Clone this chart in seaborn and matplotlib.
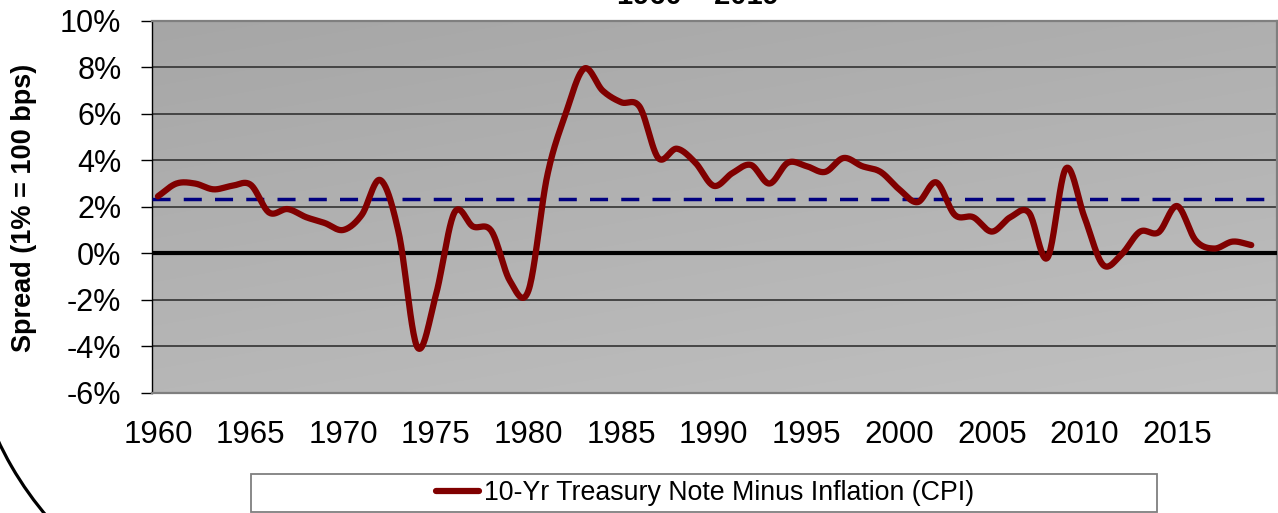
import numpy as np
import matplotlib
matplotlib.use("Agg")
import matplotlib.pyplot as plt
import seaborn as sns
from matplotlib.patches import Rectangle, Arc
from matplotlib.transforms import IdentityTransform

# ---------------- data ----------------
years = list(range(1960, 2020))
spread = [2.45, 3.0, 3.0, 2.75, 2.9, 2.95, 1.75, 1.9, 1.55, 1.3,
          1.0, 1.65, 3.15, 0.85, -4.05, -1.8, 1.75, 1.15, 0.95, -1.2,
          -1.6, 3.3, 6.0, 7.95, 7.0, 6.5, 6.3, 4.1, 4.5, 3.9,
          2.9, 3.45, 3.8, 3.0, 3.9, 3.75, 3.5, 4.1, 3.75, 3.5,
          2.75, 2.2, 3.05, 1.65, 1.55, 0.93, 1.55, 1.75, -0.2, 3.65,
          1.55, -0.5, -0.05, 0.93, 0.9, 2.03, 0.55, 0.2, 0.5, 0.35]
average_spread = 2.35
tick_years = [1960, 1965, 1970, 1975, 1980, 1985, 1990, 1995, 2000, 2005, 2010, 2015]
y_ticks = [-6, -4, -2, 0, 2, 4, 6, 8, 10]
y_tick_labels = ["-6%", "-4%", "-2%", "0%", "2%", "4%", "6%", "8%", "10%"]
series_label = "10-Yr Treasury Note Minus Inflation (CPI)"
y_label = "Spread (1% = 100 bps)"
title_text = "1960 \u2013 2019"


def smooth_curve(x, y, n=24):
    """Catmull-Rom smoothing (like a spreadsheet 'smoothed line')."""
    x = np.asarray(x, float)
    y = np.asarray(y, float)
    px = np.concatenate([[2 * x[0] - x[1]], x, [2 * x[-1] - x[-2]]])
    py = np.concatenate([[2 * y[0] - y[1]], y, [2 * y[-1] - y[-2]]])
    t = np.linspace(0, 1, n, endpoint=False)
    xs, ys = [], []
    for i in range(1, len(px) - 2):
        for arr, out in ((px, xs), (py, ys)):
            p0, p1, p2, p3 = arr[i - 1:i + 3]
            out.extend(0.5 * (2 * p1 + (-p0 + p2) * t
                              + (2 * p0 - 5 * p1 + 4 * p2 - p3) * t ** 2
                              + (-p0 + 3 * p1 - 3 * p2 + p3) * t ** 3))
    xs.append(x[-1])
    ys.append(y[-1])
    return np.array(xs), np.array(ys)


sns.set_theme(style="white")
plt.rcParams["font.family"] = ["Liberation Sans", "DejaVu Sans"]
plt.rcParams["text.color"] = "black"
plt.rcParams["axes.labelcolor"] = "black"

W, H = 1278, 513
fig = plt.figure(figsize=(W / 100, H / 100), dpi=100)
fig.patch.set_facecolor("white")
ax = fig.add_axes([152 / W, 1 - 392.5 / H, 1125 / W, 371.5 / H])

# gradient background
gy, gx = np.mgrid[0:1:200j, 0:1:200j]
val = (166 + 17 * gy + 9 * gx) / 255.0
grad = np.dstack([val, val, val])
ax.imshow(grad, extent=[0, 1, 0, 1], transform=ax.transAxes, aspect="auto",
          zorder=0, origin="upper", interpolation="bilinear")

xs, ys = smooth_curve(years, spread)
sns.lineplot(x=xs, y=ys, color="#800000", linewidth=4.5, sort=False,
             estimator=None, ax=ax, label=series_label, zorder=4)
ax.axhline(0, color="black", linewidth=3.0, zorder=3)
ax.axhline(average_spread, color="#000080", linewidth=2.5,
           dashes=(5.2, 3.8), zorder=3)

ax.set_xlim(1959.68, 2020.39)
ax.set_ylim(-6, 10)
ax.set_yticks(y_ticks)
ax.set_yticklabels(y_tick_labels)
ax.set_xticks(tick_years)
ax.set_xticklabels([str(t) for t in tick_years])
ax.yaxis.grid(True, color="#3c3c3c", linewidth=1.3)
ax.xaxis.grid(False)
ax.set_axisbelow("line")

ax.tick_params(axis="y", which="both", left=True, length=8, width=1,
               color="black", direction="out", pad=14, labelsize=22,
               labelcolor="black")
ax.tick_params(axis="x", which="both", bottom=False, length=0, pad=20,
               labelsize=22.5, labelcolor="black")

for side in ["top", "right", "bottom"]:
    ax.spines[side].set_color("#7f7f7f")
    ax.spines[side].set_linewidth(1.6)
ax.spines["left"].set_color("black")
ax.spines["left"].set_linewidth(1.0)

ax.set_xlabel("")
ax.set_ylabel(y_label, fontsize=19.5, fontweight="bold", color="black")
ax.yaxis.set_label_coords(-0.102, 0.497)

# legend
handles, labels = ax.get_legend_handles_labels()
ax.get_legend().remove()
fig.add_artist(Rectangle((251 / W, 1 - 512 / H), (1157 - 251) / W, (512 - 474) / H,
                         transform=fig.transFigure, facecolor="white",
                         edgecolor="#7f7f7f", linewidth=1.3, zorder=1))
fig.legend(handles, labels, loc="center", bbox_to_anchor=(705 / W, 1 - 493 / H),
           frameon=False, fontsize=19.3, handlelength=1.6, handletextpad=0.2,
           borderpad=0.1)

# title (cut off at the top)
fig.text(698 / W, 1 - 4 / H, title_text, ha="center", va="baseline",
         fontsize=21, fontweight="bold", color="black")

# decorative arc at bottom left
fig.add_artist(Arc((300, 213), 666, 666, theta1=188, theta2=232,
                   transform=IdentityTransform(), color="black", linewidth=2.3))

fig.savefig("out.png", dpi=100)
